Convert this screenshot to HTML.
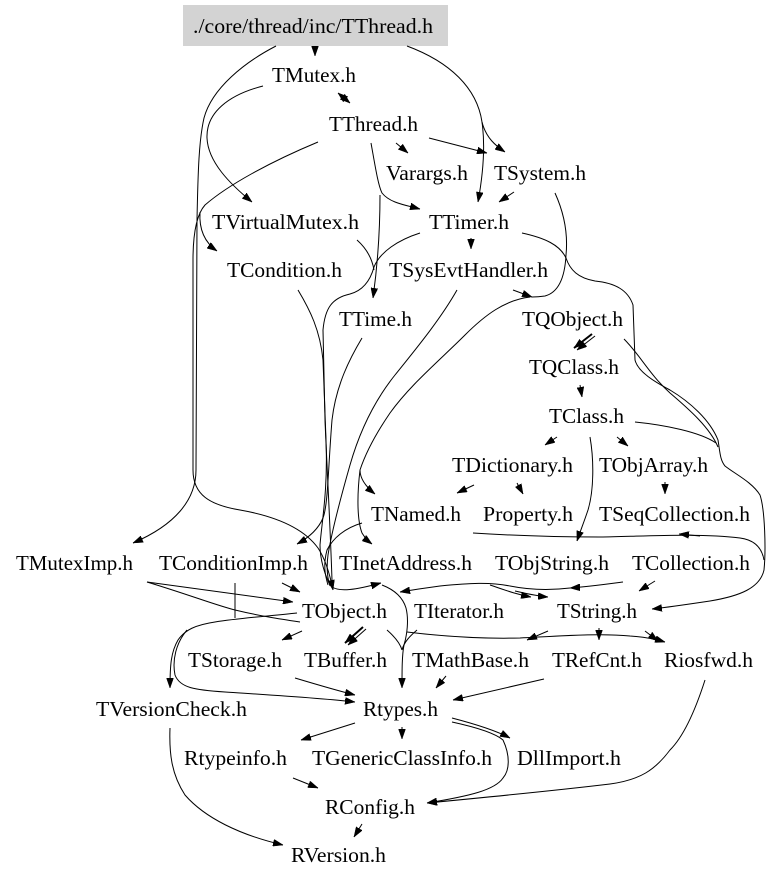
<!DOCTYPE html>
<html>
<head>
<meta charset="utf-8">
<style>
html,body{margin:0;padding:0;background:#fff;}
svg{display:block;}
text{font-family:"Liberation Serif","DejaVu Serif",serif;font-size:21px;fill:#000;}
path{fill:none;stroke:#000;stroke-width:1;}
</style>
</head>
<body>
<svg width="779" height="881" viewBox="0 0 779 881" xmlns="http://www.w3.org/2000/svg">
<defs>
<marker id="a" viewBox="0 0 10 7" refX="10" refY="3.5" markerWidth="10" markerHeight="7" markerUnits="userSpaceOnUse" orient="auto">
<path d="M0,0L10,3.5L0,7z" style="fill:#000;stroke:#000;stroke-width:0.5"/>
</marker>
<marker id="b" viewBox="0 0 10 7" refX="10" refY="3.5" markerWidth="10" markerHeight="7" markerUnits="userSpaceOnUse" orient="auto-start-reverse">
<path d="M0,0L10,3.5L0,7z" style="fill:#000;stroke:#000;stroke-width:0.5"/>
</marker>
</defs>

<rect x="183" y="5" width="265" height="41" fill="#d3d3d3"/>

<!-- edges -->
<g>
<path d="M315,46 L315,56" marker-end="url(#a)"/>
<path d="M276,46 C245,62 212,88 204,118 C199,140 198,170 197,220 L196,470 C196,500 175,525 133,543" marker-end="url(#a)"/>
<path d="M318,142 C270,162 228,185 205,205 C196,215 193,235 193,260 L193,470 C193,495 210,505 240,510 C280,517 305,530 318,548 C326,560 330,575 333,590" marker-end="url(#a)"/>
<path d="M200,212 C199,228 204,242 217,251" marker-end="url(#a)"/>
<path d="M263,86 C228,95 206,113 207,138 C208,162 230,184 252,202" marker-end="url(#a)"/>
<path d="M407,46 C450,62 477,88 482,122 C486,138 496,146 505,152" marker-end="url(#a)"/>
<path d="M482,122 C486,150 482,180 478,202" marker-end="url(#a)"/>
<path d="M429,138 L487,153" marker-end="url(#a)"/>
<path d="M338,93 L350,103" marker-end="url(#b)" marker-start="url(#b)"/>
<path d="M396,143 L408,153" marker-end="url(#a)"/>
<path d="M371,143 C375,165 378,185 382,193 C390,203 405,205 420,209" marker-end="url(#a)"/>
<path d="M380,195 C380,230 378,262 373,298" marker-end="url(#a)"/>
<path d="M514,192 L499,202" marker-end="url(#a)"/>
<path d="M471,238 L471,249" marker-end="url(#a)"/>
<path d="M420,233 C398,240 380,252 374,267 C371,278 365,290 350,294 C332,298 325,308 323,330 L325,420 C327,470 330,520 332,580"/>
<path d="M357,240 C366,248 372,258 374,270"/>
<path d="M298,290 C310,310 320,330 323,360 L326,440 C328,490 322,520 320,545 C320,560 325,575 330,585"/>
<path d="M362,338 C350,358 336,385 332,420 C328,470 328,505 323,518 C318,530 308,538 297,544" marker-end="url(#a)"/>
<path d="M457,290 C440,320 415,350 395,375 C375,400 360,430 350,465 C340,500 332,530 328,555 C326,570 328,580 330,586"/>
<path d="M555,193 C565,215 568,235 566,255 C565,275 560,292 545,296 C538,297 535,297 532,297"/>
<path d="M513,290 L532,297" marker-end="url(#a)"/>
<path d="M530,297 C505,300 485,315 465,335 C440,360 410,385 390,413 C375,435 365,455 360,470 C360,478 365,486 375,494" marker-end="url(#a)"/>
<path d="M360,470 C357,495 357,520 362,533 C365,538 368,541 372,544" marker-end="url(#a)"/>
<path d="M522,233 C545,238 560,245 566,258 C570,270 578,278 595,281 C615,283 628,290 633,305 L635,360 C638,372 655,382 670,390 C690,402 710,420 718,440 C720,452 720,460 725,466 C735,474 752,482 760,495 C765,510 766,550 764,570 C760,588 740,596 710,601 C690,604 670,607 652,609" marker-end="url(#a)"/>
<path d="M624,339 C640,355 650,375 670,393 C690,410 710,428 718,447"/>
<path d="M635,422 C665,425 700,432 716,443"/>
<path d="M473,533 C520,536 560,537 600,537 C650,536 700,533 740,538 C755,540 762,548 764,560"/>
<path d="M700,536 L679,534" marker-end="url(#a)"/>
<path d="M590,437 C594,460 594,490 588,510 C584,522 580,532 577,541" marker-end="url(#a)"/>
<path d="M592,334 L574,348" marker-end="url(#a)" style="stroke-width:2"/>
<path d="M595,336 L577,350" marker-end="url(#a)"/>
<path d="M580,385 L582,397" marker-end="url(#a)"/>
<path d="M557,437 L545,445" marker-end="url(#a)"/>
<path d="M617,437 L628,446" marker-end="url(#a)"/>
<path d="M474,485 L457,493" marker-end="url(#a)"/>
<path d="M517,483 L523,494" marker-end="url(#a)"/>
<path d="M665,482 L665,494" marker-end="url(#a)"/>
<path d="M623,582 C600,585 585,587 570,588" marker-end="url(#a)"/>
<path d="M570,588 C545,591 525,589 510,586 C490,582 470,583 440,586 C425,588 412,590 400,592" marker-end="url(#a)"/>
<path d="M655,581 L639,591" marker-end="url(#a)"/>
<path d="M490,585 C505,590 515,594 531,597" marker-end="url(#a)"/>
<path d="M515,591 C528,594 536,596 548,597" marker-end="url(#a)"/>
<path d="M332,587 C340,592 355,590 381,583" marker-end="url(#a)"/>
<path d="M382,585 C395,590 403,598 406,608 C409,620 407,635 404,645 C402,655 402,670 402,688" marker-end="url(#a)"/>
<path d="M362,523 C345,528 333,538 327,550 C323,565 325,575 328,585"/>
<path d="M387,630 C395,637 400,643 402,650"/>
<path d="M417,630 C410,636 404,642 402,650"/>
<path d="M407,632 C440,636 480,639 520,638 C560,636 600,633 630,636 C645,637 655,639 665,642" marker-end="url(#a)"/>
<path d="M645,631 L658,641" marker-end="url(#a)"/>
<path d="M548,631 L527,640" marker-end="url(#a)"/>
<path d="M599,628 L599,640" marker-end="url(#a)"/>
<path d="M147,582 L293,602" marker-end="url(#a)"/>
<path d="M147,582 C190,595 215,605 235,610 C260,616 280,619 300,622"/>
<path d="M235,583 L235,618"/>
<path d="M282,583 L300,592" marker-end="url(#a)"/>
<path d="M297,613 C270,616 240,618 215,622 C195,625 185,630 178,640 C171,652 170,665 170,688" marker-end="url(#a)"/>
<path d="M187,630 C176,643 172,660 175,675 C180,688 195,690 225,692 C270,695 320,698 355,702" marker-end="url(#a)"/>
<path d="M302,631 L282,640" marker-end="url(#a)"/>
<path d="M363,627 L345,643" marker-end="url(#a)" style="stroke-width:2"/>
<path d="M366,629 L348,645" marker-end="url(#a)"/>
<path d="M295,678 C315,684 335,690 355,695" marker-end="url(#a)"/>
<path d="M446,676 L436,688" marker-end="url(#a)"/>
<path d="M544,679 L453,700" marker-end="url(#a)"/>
<path d="M355,723 L301,740" marker-end="url(#a)"/>
<path d="M402,727 L402,739" marker-end="url(#a)"/>
<path d="M452,718 C475,724 495,730 510,738" marker-end="url(#a)"/>
<path d="M452,722 C475,727 495,733 503,740 C510,755 510,770 503,778 C495,790 470,796 427,803" marker-end="url(#a)"/>
<path d="M705,680 C697,705 685,735 670,750 C655,770 640,780 610,784 C560,790 500,796 427,803" marker-end="url(#a)"/>
<path d="M293,778 L318,788" marker-end="url(#a)"/>
<path d="M362,824 L354,837" marker-end="url(#a)"/>
<path d="M170,728 C169,755 172,775 185,795 C205,818 240,835 283,845" marker-end="url(#a)"/>
</g>

<!-- labels -->
<g>
<text x="193" y="33" textLength="240" lengthAdjust="spacingAndGlyphs">./core/thread/inc/TThread.h</text>
<text x="272" y="82" textLength="84" lengthAdjust="spacingAndGlyphs">TMutex.h</text>
<text x="329" y="131" textLength="89" lengthAdjust="spacingAndGlyphs">TThread.h</text>
<text x="386" y="180" textLength="82" lengthAdjust="spacingAndGlyphs">Varargs.h</text>
<text x="494" y="180" textLength="92" lengthAdjust="spacingAndGlyphs">TSystem.h</text>
<text x="212" y="229" textLength="147" lengthAdjust="spacingAndGlyphs">TVirtualMutex.h</text>
<text x="429" y="229" textLength="80" lengthAdjust="spacingAndGlyphs">TTimer.h</text>
<text x="227" y="277" textLength="115" lengthAdjust="spacingAndGlyphs">TCondition.h</text>
<text x="389" y="277" textLength="159" lengthAdjust="spacingAndGlyphs">TSysEvtHandler.h</text>
<text x="339" y="326" textLength="73" lengthAdjust="spacingAndGlyphs">TTime.h</text>
<text x="522" y="326" textLength="101" lengthAdjust="spacingAndGlyphs">TQObject.h</text>
<text x="529" y="374" textLength="90" lengthAdjust="spacingAndGlyphs">TQClass.h</text>
<text x="549" y="423" textLength="75" lengthAdjust="spacingAndGlyphs">TClass.h</text>
<text x="452" y="472" textLength="121" lengthAdjust="spacingAndGlyphs">TDictionary.h</text>
<text x="599" y="472" textLength="109" lengthAdjust="spacingAndGlyphs">TObjArray.h</text>
<text x="371" y="521" textLength="90" lengthAdjust="spacingAndGlyphs">TNamed.h</text>
<text x="483" y="521" textLength="90" lengthAdjust="spacingAndGlyphs">Property.h</text>
<text x="599" y="521" textLength="151" lengthAdjust="spacingAndGlyphs">TSeqCollection.h</text>
<text x="16" y="570" textLength="117" lengthAdjust="spacingAndGlyphs">TMutexImp.h</text>
<text x="159" y="570" textLength="149" lengthAdjust="spacingAndGlyphs">TConditionImp.h</text>
<text x="339" y="570" textLength="133" lengthAdjust="spacingAndGlyphs">TInetAddress.h</text>
<text x="495" y="570" textLength="114" lengthAdjust="spacingAndGlyphs">TObjString.h</text>
<text x="632" y="570" textLength="118" lengthAdjust="spacingAndGlyphs">TCollection.h</text>
<text x="302" y="618" textLength="85" lengthAdjust="spacingAndGlyphs">TObject.h</text>
<text x="414" y="618" textLength="90" lengthAdjust="spacingAndGlyphs">TIterator.h</text>
<text x="557" y="618" textLength="80" lengthAdjust="spacingAndGlyphs">TString.h</text>
<text x="188" y="667" textLength="94" lengthAdjust="spacingAndGlyphs">TStorage.h</text>
<text x="304" y="667" textLength="83" lengthAdjust="spacingAndGlyphs">TBuffer.h</text>
<text x="412" y="667" textLength="117" lengthAdjust="spacingAndGlyphs">TMathBase.h</text>
<text x="552" y="667" textLength="90" lengthAdjust="spacingAndGlyphs">TRefCnt.h</text>
<text x="664" y="667" textLength="89" lengthAdjust="spacingAndGlyphs">Riosfwd.h</text>
<text x="96" y="716" textLength="151" lengthAdjust="spacingAndGlyphs">TVersionCheck.h</text>
<text x="363" y="716" textLength="75" lengthAdjust="spacingAndGlyphs">Rtypes.h</text>
<text x="184" y="765" textLength="103" lengthAdjust="spacingAndGlyphs">Rtypeinfo.h</text>
<text x="312" y="765" textLength="180" lengthAdjust="spacingAndGlyphs">TGenericClassInfo.h</text>
<text x="517" y="765" textLength="104" lengthAdjust="spacingAndGlyphs">DllImport.h</text>
<text x="325" y="814" textLength="90" lengthAdjust="spacingAndGlyphs">RConfig.h</text>
<text x="291" y="862" textLength="95" lengthAdjust="spacingAndGlyphs">RVersion.h</text>
</g>
</svg>
</body>
</html>
